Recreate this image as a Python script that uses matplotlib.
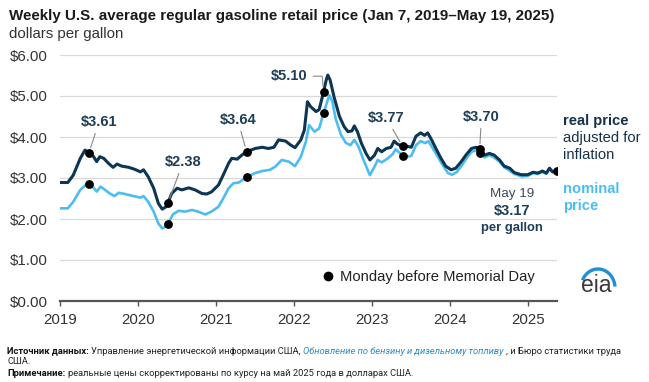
import matplotlib
matplotlib.use('Agg')
import matplotlib.pyplot as plt
from matplotlib.patches import Arc
from matplotlib.transforms import IdentityTransform
from matplotlib.lines import Line2D

plt.rcParams['font.family'] = ['Liberation Sans', 'DejaVu Sans']

# ---------------- data (decimal years, dollars per gallon) ----------------
real_x = [2019.00, 2019.10, 2019.17, 2019.26, 2019.32, 2019.38, 2019.43, 2019.47, 2019.51, 2019.56,
          2019.62, 2019.68, 2019.73, 2019.79, 2019.88, 2019.96, 2020.03, 2020.07, 2020.13, 2020.20,
          2020.26, 2020.31, 2020.36, 2020.38, 2020.43, 2020.50, 2020.56, 2020.65, 2020.73, 2020.82,
          2020.88, 2020.94, 2021.03, 2021.09, 2021.16, 2021.20, 2021.27, 2021.33, 2021.39, 2021.50,
          2021.59, 2021.67, 2021.74, 2021.80, 2021.89, 2021.95, 2022.01, 2022.085, 2022.13, 2022.17,
          2022.21, 2022.28, 2022.32, 2022.376, 2022.41, 2022.43, 2022.46, 2022.51, 2022.58, 2022.64,
          2022.69, 2022.74, 2022.77, 2022.81, 2022.86, 2022.92, 2022.97, 2023.03, 2023.07, 2023.12,
          2023.18, 2023.24, 2023.28, 2023.32, 2023.39, 2023.43, 2023.50, 2023.56, 2023.62, 2023.67,
          2023.71, 2023.76, 2023.82, 2023.88, 2023.94, 2024.01, 2024.07, 2024.14, 2024.20, 2024.27,
          2024.33, 2024.376, 2024.44, 2024.50, 2024.56, 2024.63, 2024.69, 2024.76, 2024.82, 2024.91,
          2024.99, 2025.06, 2025.12, 2025.18, 2025.23, 2025.27, 2025.31, 2025.36]
real_y = [2.89, 2.89, 3.07, 3.48, 3.68, 3.61, 3.52, 3.40, 3.52, 3.48,
          3.36, 3.26, 3.34, 3.29, 3.26, 3.21, 3.15, 3.20, 3.03, 2.75,
          2.38, 2.24, 2.30, 2.38, 2.62, 2.75, 2.71, 2.76, 2.71, 2.62,
          2.61, 2.66, 2.83, 3.07, 3.36, 3.48, 3.46, 3.56, 3.64, 3.72,
          3.75, 3.72, 3.75, 3.93, 3.90, 3.81, 3.74, 3.93, 4.17, 4.86,
          4.74, 4.62, 4.67, 5.10, 5.39, 5.51, 5.39, 4.98, 4.50, 4.25,
          4.13, 4.15, 4.27, 4.13, 3.85, 3.60, 3.44, 3.56, 3.72, 3.64,
          3.72, 3.75, 3.90, 3.83, 3.77, 3.78, 3.75, 4.02, 4.10, 4.04,
          4.10, 3.93, 3.70, 3.48, 3.29, 3.20, 3.24, 3.40, 3.56, 3.72,
          3.75, 3.70, 3.56, 3.60, 3.56, 3.44, 3.29, 3.24, 3.13, 3.08,
          3.08, 3.14, 3.12, 3.17, 3.12, 3.24, 3.15, 3.17]

nom_x = [2019.00, 2019.10, 2019.17, 2019.26, 2019.34, 2019.38, 2019.43, 2019.47, 2019.52, 2019.57,
         2019.64, 2019.70, 2019.75, 2019.83, 2019.94, 2020.03, 2020.07, 2020.13, 2020.20, 2020.26,
         2020.31, 2020.35, 2020.38, 2020.45, 2020.52, 2020.60, 2020.69, 2020.77, 2020.86, 2020.94,
         2021.03, 2021.09, 2021.16, 2021.22, 2021.29, 2021.39, 2021.50, 2021.59, 2021.69, 2021.76,
         2021.84, 2021.93, 2022.01, 2022.085, 2022.15, 2022.19, 2022.26, 2022.32, 2022.376, 2022.43,
         2022.45, 2022.49, 2022.53, 2022.60, 2022.66, 2022.72, 2022.77, 2022.82, 2022.88, 2022.94,
         2022.97, 2023.03, 2023.07, 2023.12, 2023.20, 2023.26, 2023.30, 2023.39, 2023.45, 2023.50,
         2023.56, 2023.62, 2023.68, 2023.72, 2023.77, 2023.84, 2023.90, 2023.97, 2024.02, 2024.08,
         2024.14, 2024.20, 2024.27, 2024.33, 2024.376, 2024.44, 2024.50, 2024.56, 2024.63, 2024.69,
         2024.76, 2024.82, 2024.91, 2024.99, 2025.06, 2025.12, 2025.18, 2025.23, 2025.27, 2025.31,
         2025.36]
nom_y = [2.26, 2.26, 2.42, 2.71, 2.85, 2.85, 2.76, 2.67, 2.79, 2.72,
         2.62, 2.56, 2.64, 2.61, 2.56, 2.52, 2.56, 2.42, 2.18, 1.89,
         1.77, 1.81, 1.88, 2.12, 2.20, 2.18, 2.22, 2.18, 2.11, 2.18,
         2.30, 2.50, 2.75, 2.87, 2.89, 3.02, 3.12, 3.17, 3.20, 3.28,
         3.44, 3.40, 3.29, 3.52, 3.89, 4.29, 4.13, 4.21, 4.59, 4.90,
         5.02, 4.86, 4.45, 4.05, 3.86, 3.80, 3.93, 3.78, 3.48, 3.20,
         3.07, 3.28, 3.44, 3.38, 3.48, 3.58, 3.70, 3.54, 3.52, 3.54,
         3.80, 3.90, 3.85, 3.90, 3.74, 3.52, 3.32, 3.12, 3.08, 3.14,
         3.29, 3.46, 3.64, 3.67, 3.61, 3.50, 3.56, 3.50, 3.40, 3.26,
         3.18, 3.10, 3.04, 3.05, 3.12, 3.10, 3.15, 3.10, 3.22, 3.14,
         3.17]

mem_x = [2019.37, 2020.38, 2021.39, 2022.376, 2023.39, 2024.376]
mem_real = [3.61, 2.38, 3.64, 5.10, 3.77, 3.70]
mem_nom = [2.85, 1.88, 3.02, 4.59, 3.54, 3.61]
mem_labels = ['$3.61', '$2.38', '$3.64', '$5.10', '$3.77', '$3.70']
last_x = 2025.36
last_y = 3.17

year_ticks = [2019, 2020, 2021, 2022, 2023, 2024, 2025]
y_ticks = [0, 1, 2, 3, 4, 5, 6]
y_labels = ['$0.00', '$1.00', '$2.00', '$3.00', '$4.00', '$5.00', '$6.00']

# ---------------- styling ----------------
NAVY = '#0e3552'
LBLUE = '#4dbdf0'
TXT = '#333333'

W, H = 649, 382
fig = plt.figure(figsize=(W / 100, H / 100), dpi=100)
ax = fig.add_axes([60 / W, 1 - 301 / H, 497.3 / W, 246 / H])

ax.plot(nom_x, nom_y, color=LBLUE, lw=1.9, solid_joinstyle='round', zorder=3)
ax.plot(real_x, real_y, color=NAVY, lw=2.2, solid_joinstyle='round', zorder=4)
ax.scatter(mem_x, mem_real, s=40, color='black', zorder=6, linewidths=0)
ax.scatter(mem_x, mem_nom, s=40, color='black', zorder=6, linewidths=0)
ax.scatter([last_x], [last_y], s=40, color='black', zorder=6, linewidths=0)

ax.set_xlim(2019, 2025.37)
ax.set_ylim(0, 6)
ax.set_xticks(year_ticks)
ax.set_xticklabels([str(y) for y in year_ticks])
ax.set_yticks(y_ticks)
ax.set_yticklabels(y_labels)
ax.tick_params(axis='y', length=0, pad=9, labelsize=10.8, labelcolor=TXT)
ax.tick_params(axis='x', length=3.5, width=1, color='#555555', pad=5, labelsize=10.8, labelcolor=TXT)
ax.grid(axis='y', color='#d9d9d9', lw=0.9, zorder=0)
ax.set_axisbelow(True)
for s in ['top', 'right', 'left']:
    ax.spines[s].set_visible(False)
ax.spines['bottom'].set_color('#555555')
ax.spines['bottom'].set_linewidth(1.6)
ax.spines['bottom'].set_zorder(5)

# annotation labels (offsets in points from each dot)
offsets = [(7.2, 22), (11, 29.5), (-6.3, 22.8), (-24.7, 11.3), (-11.7, 20.2), (1.2, 23)]
for i, (lab, off) in enumerate(zip(mem_labels, offsets)):
    if i == 3:
        ap = dict(arrowstyle='-', color='#8a8a8a', lw=0.8, shrinkA=2, shrinkB=4,
                  relpos=(1, 0.5), connectionstyle='angle,angleA=0,angleB=95,rad=0')
    else:
        ap = dict(arrowstyle='-', color='#8a8a8a', lw=0.8, shrinkA=1, shrinkB=4)
    ax.annotate(lab, xy=(mem_x[i], mem_real[i]), xytext=off, textcoords='offset points',
                ha='center', va='center', fontsize=10.5, fontweight='bold', color='#1d3d58',
                arrowprops=ap, zorder=7)

# legend
handle = Line2D([], [], marker='o', color='black', ls='none', markersize=6)
ax.legend([handle], ['Monday before Memorial Day'], loc='center left',
          bbox_to_anchor=((322 - 60) / 497.3, (301 - 277) / 246), frameon=False,
          borderpad=0, borderaxespad=0, handlelength=0.8, handletextpad=0.4,
          prop={'size': 10.6}, labelcolor='#222222')

# ---------------- texts in pixel positions ----------------
def fx(px):
    return px / W

def fy(py):
    return 1 - py / H

fig.text(fx(9), fy(16), 'Weekly U.S. average regular gasoline retail price (Jan 7, 2019\u2013May 19, 2025)',
         fontsize=10.9, fontweight='bold', color='#1a1a1a', va='center', ha='left')
fig.text(fx(9), fy(34), 'dollars per gallon', fontsize=10.8, color=TXT, va='center', ha='left')

fig.text(fx(563), fy(121), 'real price', fontsize=10.6, fontweight='bold', color='#15324a', va='center')
fig.text(fx(563), fy(138), 'adjusted for', fontsize=10.6, color='#15324a', va='center')
fig.text(fx(563), fy(155), 'inflation', fontsize=10.6, color='#15324a', va='center')
fig.text(fx(563), fy(189), 'nominal', fontsize=10.6, fontweight='bold', color=LBLUE, va='center')
fig.text(fx(563), fy(206), 'price', fontsize=10.6, fontweight='bold', color=LBLUE, va='center')

fig.text(fx(512), fy(194), 'May 19', fontsize=9.6, color='#3a4a58', ha='center', va='center')
fig.text(fx(512), fy(211), '$3.17', fontsize=10.5, fontweight='bold', color='#1d3d58', ha='center', va='center')
fig.text(fx(512), fy(228), 'per gallon', fontsize=9.4, fontweight='bold', color='#1d3d58', ha='center', va='center')

# eia logo
fig.text(fx(596), fy(286), 'eia', fontsize=16.5, color='#3a3a3a', ha='center', va='center')
arc = Arc((fx(598), fy(288)), 34 / W, 38 / H, theta1=8, theta2=140, color='#1f8fd6', lw=2.4,
          transform=fig.transFigure)
fig.add_artist(arc)

# footer with mixed styles
FOOT = ['Roboto', 'DejaVu Sans']
fs = 6.75
fig.canvas.draw()
renderer = fig.canvas.get_renderer()

def run(pieces, x0, ypix):
    x = x0
    for txt, kw, gap in pieces:
        t = fig.text(x, ypix, txt, transform=IdentityTransform(), va='center', ha='left',
                     fontsize=fs, family=FOOT, **kw)
        bb = t.get_window_extent(renderer)
        x = bb.x1 + gap

run([('Источник данных:', dict(fontweight='bold', color='#111111'), 2.5),
     ('Управление энергетической информации США,', dict(color='#222222'), 2.5),
     ('Обновление по бензину и дизельному топливу', dict(style='italic', color='#2b8cc4'), 2.5),
     (', и Бюро статистики труда', dict(color='#222222'), 0)], 7, H - 351)
run([('США.', dict(color='#222222'), 0)], 7, H - 362)
run([('Примечание:', dict(fontweight='bold', color='#111111'), 2.5),
     ('реальные цены скорректированы по курсу на май 2025 года в долларах США.', dict(color='#222222'), 0)],
    7, H - 374)

fig.savefig('out.png', dpi=100)
